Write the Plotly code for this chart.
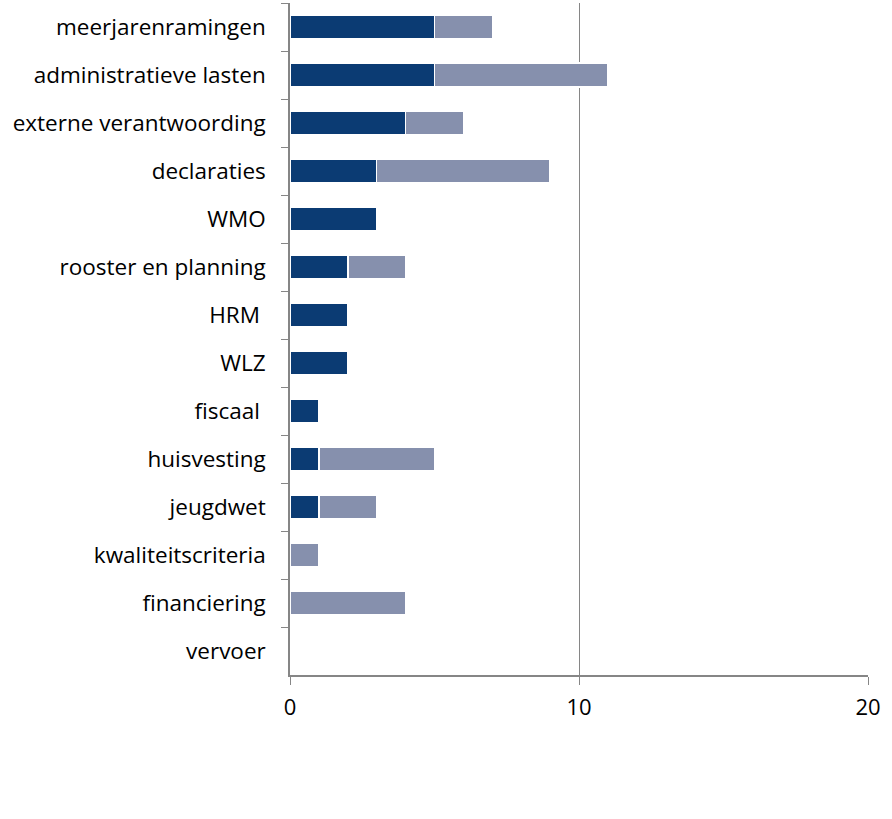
import plotly.graph_objects as go

categories = ["meerjarenramingen", "administratieve lasten", "externe verantwoording",
              "declaraties", "WMO", "rooster en planning", "HRM\u00a0", "WLZ",
              "fiscaal\u00a0", "huisvesting", "jeugdwet", "kwaliteitscriteria",
              "financiering", "vervoer"]
series_dark = [5, 5, 4, 3, 3, 2, 2, 2, 1, 1, 1, 0, 0, 0]
series_light = [2, 6, 2, 6, 0, 2, 0, 0, 0, 4, 2, 1, 4, 0]
x_ticks = [0, 10, 20]

fig = go.Figure()
fig.add_trace(go.Bar(y=categories, x=series_dark, orientation="h", name="serie 1",
                     marker=dict(color="#0B3B73", line=dict(color="white", width=1.5))))
fig.add_trace(go.Bar(y=categories, x=series_light, orientation="h", name="serie 2",
                     marker=dict(color="#8690AD", line=dict(color="white", width=1.5))))

font = "Open Sans, Noto Sans, sans-serif"
fig.update_layout(
    barmode="stack", bargap=0.5,
    width=892, height=819,
    margin=dict(l=290, r=24, t=3, b=144),
    paper_bgcolor="white", plot_bgcolor="white",
    showlegend=False,
    font=dict(family=font, size=22.5, color="black"),
)
fig.update_xaxes(range=[0, 20], tickvals=x_ticks, showgrid=True, gridcolor="#868686",
                 gridwidth=1.3, zeroline=False, showline=True, linecolor="#868686",
                 linewidth=1.5, ticks="outside", ticklen=8, tickcolor="#868686",
                 tickfont=dict(size=22), ticklabelstandoff=4)
fig.update_yaxes(autorange="reversed", type="category", showline=True,
                 linecolor="#868686", linewidth=1.5, ticks="outside", ticklen=7,
                 tickcolor="#868686", tickson="boundaries", showgrid=False,
                 ticklabelstandoff=18)
fig.write_html("out.html", config={"displayModeBar": False},
               post_script="document.body.style.margin='0';")
